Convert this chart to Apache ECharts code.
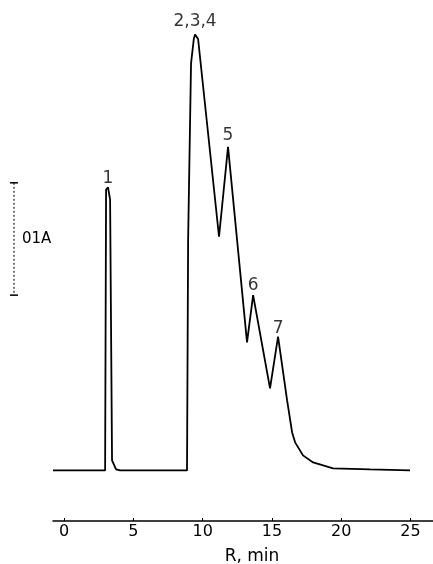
<!DOCTYPE html>
<html>
<head>
<meta charset="utf-8">
<script src="https://cdn.jsdelivr.net/npm/echarts@6/dist/echarts.min.js"></script>
<style>html,body{margin:0;padding:0;background:#fff}#c{width:433px;height:564px}</style>
</head>
<body>
<div id="c"></div>
<script>
// Retention time (min) and absorbance (A)
var timeMin = [-0.8, 2.96, 3.03, 3.17, 3.32, 3.46, 3.75, 4.04, 8.87, 8.95, 9.16, 9.36, 9.45, 9.67, 11.18, 11.83, 13.2, 13.64, 14.86, 15.44, 16.09, 16.45, 16.67, 17.24, 17.97, 19.41, 22.08, 24.96];
var absorb  = [0, 0, 0.25, 0.252, 0.241, 0.009, 0.001, 0, 0, 0.205, 0.362, 0.384, 0.388, 0.384, 0.208, 0.288, 0.114, 0.156, 0.073, 0.119, 0.0625, 0.034, 0.025, 0.0134, 0.0071, 0.0018, 0.0009, 0];
// Peak labels
var peakNames = ['1', '2,3,4', '5', '6', '7'];
var peakTime  = [3.17, 9.45, 11.83, 13.64, 15.44];
var peakAbs   = [0.252, 0.388, 0.288, 0.156, 0.119];
var peakLabelGap = [0, 4, 3, 1, 0];
// Axis ticks
var xTicks = [0, 5, 10, 15, 20, 25];
var scaleBarLow = 0.156, scaleBarHigh = 0.256, scaleBarText = '01A';
var xTitle = 'R, min';

var chart = echarts.init(document.getElementById('c'), null, {renderer: 'canvas'});
var lineData = timeMin.map(function (t, i) { return [t, absorb[i]]; });
var peakData = peakNames.map(function (n, i) {
  return {value: [peakTime[i], peakAbs[i]], name: n, label: {distance: peakLabelGap[i]}};
});
var font = 'DejaVu Sans';
chart.setOption({
  animation: false,
  grid: {left: 53, right: 0, top: 21, bottom: 43, outerBoundsMode: 'none'},
  xAxis: {
    type: 'value', min: -0.8, max: 26.62, interval: 5,
    axisLine: {onZero: false, lineStyle: {color: '#000', width: 1.5}},
    axisTick: {inside: true, length: 3, lineStyle: {color: '#000', width: 1}, customValues: xTicks},
    axisLabel: {color: '#000', fontFamily: font, fontSize: 16, margin: 3, customValues: xTicks,
      formatter: function (v) { return xTicks.indexOf(v) >= 0 ? String(v) : ''; }},
    splitLine: {show: false},
    name: xTitle, nameLocation: 'middle', nameGap: 27,
    nameTextStyle: {color: '#000', fontFamily: font, fontSize: 17, padding: [0, 0, 0, 18]}
  },
  yAxis: {type: 'value', min: -0.045, max: 0.4, show: false},
  series: [
    {type: 'line', data: lineData, symbol: 'none', lineStyle: {color: '#000', width: 1.8}, z: 3},
    {type: 'scatter', data: peakData, symbolSize: 0, silent: true,
      label: {show: true, position: 'top', formatter: '{b}', color: '#000', fontFamily: font, fontSize: 17}}
  ]
});

function drawScaleBar() {
  var yTop = chart.convertToPixel({yAxisIndex: 0}, scaleBarHigh);
  var yBot = chart.convertToPixel({yAxisIndex: 0}, scaleBarLow);
  var x = 14;
  chart.setOption({graphic: [
    {type: 'line', shape: {x1: x, y1: yTop, x2: x, y2: yBot}, style: {stroke: '#222', lineWidth: 1.2, lineDash: [2, 2]}},
    {type: 'line', shape: {x1: x - 4, y1: yTop, x2: x + 4, y2: yTop}, style: {stroke: '#000', lineWidth: 1.5}},
    {type: 'line', shape: {x1: x - 4, y1: yBot, x2: x + 4, y2: yBot}, style: {stroke: '#000', lineWidth: 1.5}},
    {type: 'text', x: 22, y: (yTop + yBot) / 2, style: {text: scaleBarText, fill: '#000', fontFamily: font, fontSize: 15, verticalAlign: 'middle'}}
  ]});
}
drawScaleBar();
</script>
</body>
</html>
